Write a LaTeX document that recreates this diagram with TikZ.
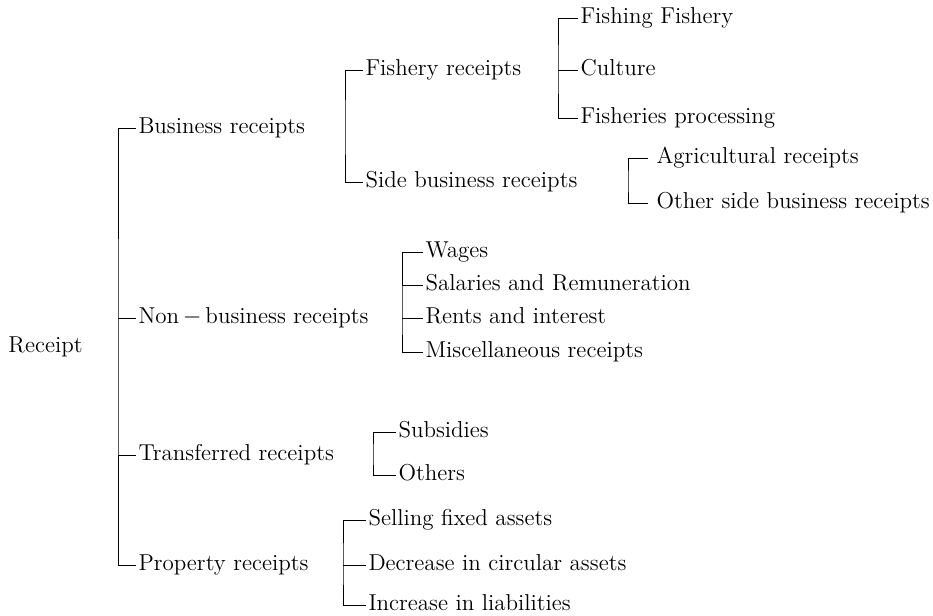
\documentclass[tikz,border=0pt]{standalone}
\usepackage{tikz}

\tikzset{item/.style={anchor=west, inner sep=1pt, text height=1.6ex, text depth=.3ex,
    font=\fontsize{11.5}{13}\selectfont},
  gapitem/.style={item, inner xsep=4pt}}

\begin{document}
\begin{tikzpicture}[x=.5pt,y=-.5pt,line width=.5pt]
          \useasboundingbox (0,0) rectangle (933,616);
          \node[item] (rec)  at (6,347)   {Receipt};
          \node[item] (bus)  at (136,128) {Business receipts};
          \node[item] (non)  at (136,318) {Non\,$-$\,business receipts};
          \node[item] (tra)  at (136,455) {Transferred receipts};
          \node[item] (prop) at (136,565) {Property receipts};
          \node[item] (fish) at (363,70)  {Fishery receipts};       % Business
          \node[item] (side) at (363,182) {Side business receipts};
          \node[item] (ff)   at (578,18)  {Fishing Fishery};        % Fishery
          \node[item] (cul)  at (578,70)  {Culture};
          \node[item] (proc) at (578,118) {Fisheries processing};
          \node[gapitem] (agr) at (648,158) {Agricultural receipts}; % Side business
          \node[gapitem] (osb) at (648,203) {Other side business receipts};
          \node[item] (wag)  at (423,252) {Wages};                  % Non-business
          \node[item] (sal)  at (423,285) {Salaries and Remuneration};
          \node[item] (ren)  at (423,318) {Rents and interest};
          \node[item] (mis)  at (423,352) {Miscellaneous receipts};
          \node[item] (sub)  at (396,432) {Subsidies};              % Transferred
          \node[item] (oth)  at (396,475) {Others};
          \node[item] (sel)  at (366,520) {Selling fixed assets};   % Property
          \node[item] (dec)  at (366,565) {Decrease in circular assets};
          \node[item] (inc)  at (366,605) {Increase in liabilities};
          \coordinate (recB)  at (118,347);
          \coordinate (busB)  at (345,128);
          \coordinate (fishB) at (558,70);
          \coordinate (sideB) at (628,182);
          \coordinate (nonB)  at (402,318);
          \coordinate (traB)  at (373,455);
          \coordinate (propB) at (343,565);
          \draw (bus.west) -| (recB) |- (prop.west);
          \draw (recB |- non.west) -- (non.west)
                (recB |- tra.west) -- (tra.west);
          \draw (fish.west) -| (busB) |- (side.west);
          \draw (ff.west) -| (fishB) |- (proc.west);
          \draw (fishB |- cul.west) -- (cul.west);
          \draw (agr.west) -| (sideB) |- (osb.west);
          \draw (wag.west) -| (nonB) |- (mis.west);
          \draw (nonB |- sal.west) -- (sal.west)
                (nonB |- ren.west) -- (ren.west);
          \draw (sub.west) -| (traB) |- (oth.west);
          \draw (sel.west) -| (propB) |- (inc.west);
          \draw (propB |- dec.west) -- (dec.west);
        \end{tikzpicture}
\end{document}
